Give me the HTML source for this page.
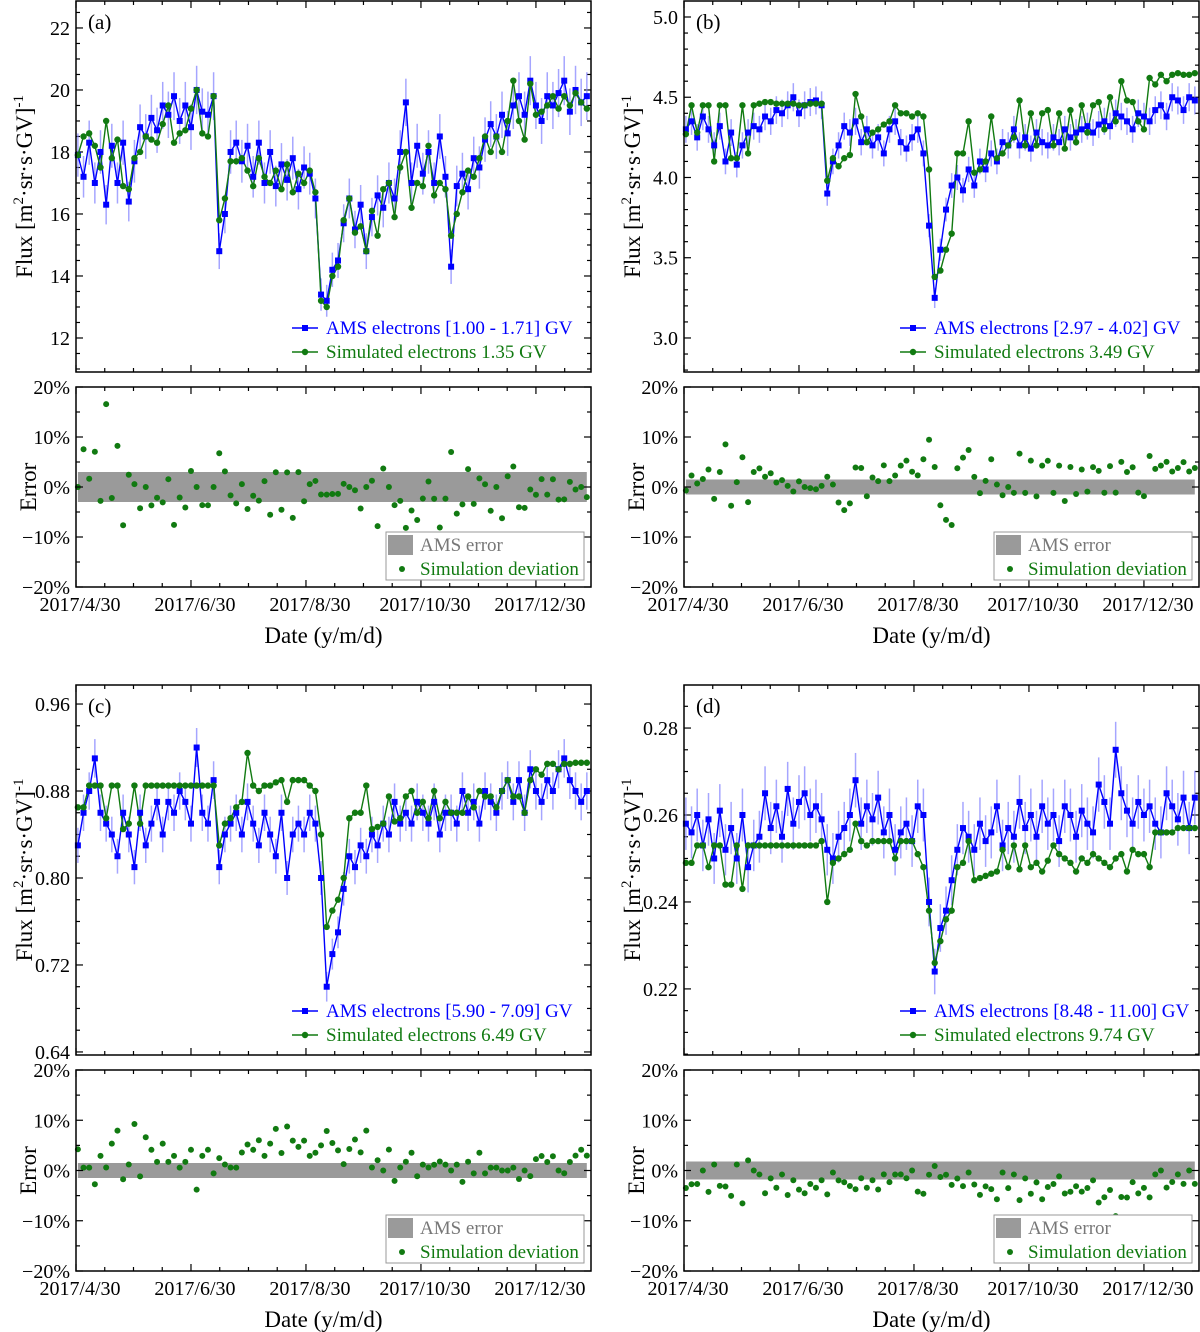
<!DOCTYPE html>
<html><head><meta charset="utf-8"><style>
html,body{margin:0;padding:0;background:#fff}
svg{display:block;font-family:"Liberation Serif",serif}
</style></head><body>
<svg id="chart" width="1200" height="1332" viewBox="0 0 1200 1332" xmlns="http://www.w3.org/2000/svg"></svg>
<script>
// sample days (days since 2017/4/30)
const days = [];
for (let i = 0; i < 91; i++) days.push(1 + 3 * i);
const xTickLabels = ["2017/4/30","2017/6/30","2017/8/30","2017/10/30","2017/12/30"];
const xTickDays = [0, 61, 122, 183, 244];
const errTickLabels = ["20%","10%","0%","\u221210%","\u221220%"];
const errTickVals = [20, 10, 0, -10, -20];

const amsA = [17.9,17.2,18.3,17.0,18.0,16.3,18.2,17.0,18.3,16.4,17.7,18.8,18.5,19.1,18.7,19.5,19.2,19.8,19.0,19.5,18.8,20.0,19.3,19.2,19.8,14.8,16.0,18.0,18.3,17.7,18.2,17.2,18.3,17.0,18.0,16.9,17.6,17.1,17.8,16.8,17.5,17.3,16.5,13.4,13.2,14.2,14.5,15.7,16.5,15.5,16.3,14.8,15.9,16.6,16.2,17.0,16.5,18.0,19.6,17.0,18.2,17.3,18.0,17.0,18.5,17.2,14.3,16.9,17.3,16.8,17.8,17.5,18.4,18.9,18.5,19.2,18.6,19.5,19.8,19.2,20.3,19.5,19.0,19.8,19.5,19.9,20.3,19.3,20.0,19.6,19.8];
const simA = [17.9,18.5,18.6,18.2,17.5,19.0,17.8,18.4,16.9,16.8,17.8,18.0,18.5,18.4,18.3,18.9,19.5,18.3,18.6,18.7,19.4,20.0,18.6,18.5,19.8,15.8,16.5,17.7,17.7,17.8,17.4,16.9,17.8,17.2,17.0,17.4,16.8,17.6,16.7,17.3,17.0,17.4,16.7,13.2,13.0,14.0,14.3,15.8,16.5,15.4,15.6,14.8,16.1,15.3,16.8,17.0,15.9,17.5,18.0,16.2,17.0,16.9,18.2,16.6,17.0,16.8,15.3,16.0,16.7,17.4,17.2,17.8,18.5,18.0,18.5,18.0,19.0,20.3,19.0,18.4,20.2,19.2,19.3,19.5,19.8,19.4,19.8,19.5,19.9,19.6,19.4];
const amsB = [4.30,4.35,4.25,4.38,4.30,4.20,4.32,4.10,4.28,4.08,4.20,4.28,4.32,4.30,4.38,4.35,4.42,4.40,4.45,4.50,4.40,4.45,4.47,4.48,4.45,3.90,4.10,4.20,4.32,4.28,4.35,4.22,4.30,4.20,4.25,4.15,4.30,4.35,4.22,4.18,4.25,4.30,4.15,3.70,3.25,3.55,3.80,3.95,4.00,3.92,4.05,3.95,4.10,4.05,4.15,4.10,4.22,4.20,4.30,4.20,4.25,4.18,4.28,4.22,4.20,4.25,4.22,4.30,4.25,4.28,4.30,4.32,4.28,4.33,4.35,4.32,4.40,4.38,4.35,4.30,4.40,4.38,4.35,4.42,4.45,4.38,4.50,4.48,4.42,4.50,4.48];
const simB = [4.27,4.45,4.28,4.45,4.45,4.10,4.45,4.45,4.12,4.12,4.45,4.15,4.45,4.46,4.47,4.47,4.46,4.46,4.46,4.46,4.45,4.45,4.46,4.46,4.46,3.98,4.12,4.07,4.12,4.14,4.52,4.38,4.22,4.28,4.30,4.33,4.35,4.45,4.40,4.40,4.38,4.40,4.38,4.05,3.38,3.42,3.55,3.65,4.15,4.15,4.35,4.03,4.05,4.10,4.38,4.12,4.15,4.20,4.25,4.48,4.20,4.40,4.20,4.40,4.42,4.20,4.40,4.18,4.42,4.22,4.45,4.28,4.45,4.47,4.30,4.50,4.35,4.60,4.48,4.47,4.35,4.30,4.62,4.58,4.64,4.60,4.64,4.65,4.64,4.64,4.65];
const amsC = [0.83,0.86,0.88,0.91,0.86,0.85,0.84,0.82,0.86,0.84,0.81,0.86,0.83,0.85,0.87,0.84,0.87,0.86,0.88,0.87,0.85,0.92,0.86,0.85,0.89,0.81,0.84,0.85,0.86,0.84,0.87,0.85,0.83,0.86,0.84,0.82,0.86,0.80,0.84,0.85,0.84,0.86,0.85,0.80,0.70,0.73,0.75,0.79,0.82,0.81,0.83,0.82,0.84,0.83,0.85,0.84,0.87,0.85,0.86,0.85,0.87,0.86,0.85,0.87,0.84,0.86,0.86,0.85,0.88,0.86,0.87,0.85,0.88,0.87,0.86,0.88,0.89,0.87,0.89,0.86,0.90,0.88,0.87,0.89,0.88,0.90,0.91,0.89,0.88,0.87,0.88];
const simC = [0.865,0.865,0.885,0.885,0.885,0.855,0.885,0.885,0.845,0.85,0.885,0.85,0.885,0.885,0.885,0.885,0.885,0.885,0.885,0.885,0.885,0.885,0.885,0.885,0.885,0.83,0.85,0.855,0.865,0.87,0.915,0.885,0.88,0.885,0.885,0.888,0.89,0.87,0.89,0.89,0.89,0.885,0.88,0.84,0.755,0.77,0.78,0.80,0.855,0.86,0.86,0.885,0.845,0.847,0.85,0.875,0.852,0.855,0.875,0.88,0.86,0.87,0.855,0.88,0.855,0.87,0.86,0.86,0.86,0.875,0.865,0.88,0.875,0.875,0.865,0.88,0.89,0.875,0.875,0.86,0.89,0.90,0.895,0.905,0.905,0.90,0.905,0.905,0.906,0.906,0.906];
const amsD = [0.258,0.256,0.260,0.253,0.259,0.250,0.261,0.252,0.257,0.250,0.260,0.248,0.253,0.255,0.265,0.257,0.262,0.255,0.266,0.258,0.263,0.265,0.260,0.262,0.259,0.252,0.250,0.255,0.257,0.260,0.268,0.258,0.262,0.259,0.264,0.256,0.260,0.252,0.256,0.258,0.254,0.262,0.260,0.240,0.224,0.234,0.238,0.245,0.252,0.257,0.255,0.252,0.258,0.254,0.256,0.262,0.253,0.257,0.255,0.263,0.257,0.260,0.255,0.262,0.258,0.260,0.254,0.262,0.260,0.255,0.261,0.258,0.256,0.267,0.263,0.258,0.275,0.265,0.261,0.258,0.263,0.260,0.262,0.258,0.256,0.265,0.262,0.259,0.264,0.257,0.264];
const simD = [0.249,0.249,0.253,0.253,0.248,0.253,0.253,0.244,0.244,0.253,0.243,0.253,0.253,0.253,0.253,0.253,0.253,0.253,0.253,0.253,0.253,0.253,0.253,0.253,0.254,0.240,0.249,0.250,0.251,0.252,0.258,0.254,0.253,0.254,0.254,0.254,0.254,0.250,0.254,0.254,0.254,0.251,0.248,0.238,0.226,0.231,0.236,0.238,0.248,0.249,0.254,0.245,0.2455,0.246,0.2465,0.247,0.252,0.248,0.253,0.2475,0.253,0.248,0.249,0.247,0.2495,0.253,0.251,0.250,0.249,0.247,0.250,0.249,0.251,0.250,0.249,0.248,0.250,0.251,0.247,0.252,0.251,0.251,0.248,0.256,0.256,0.256,0.256,0.257,0.257,0.257,0.257];
const relErr = [0.03, 0.015, 0.015, 0.018];

const NS = "http://www.w3.org/2000/svg";
const svg = document.getElementById("chart");
function mk(tag, attrs, parent, text) {
  const e = document.createElementNS(NS, tag);
  for (const k in attrs) e.setAttribute(k, attrs[k]);
  if (text !== undefined) e.textContent = text;
  (parent || svg).appendChild(e);
  return e;
}

const panels = [
  {id:"a", L:76, ft:1, fb:372, ymin:10.903, ymax:22.87, ticks:[12,14,16,18,20,22], fmt:v=>v.toFixed(0), minor:0.5, et:387, eb:587, ams:amsA, sim:simA, err:relErr[0], range:"[1.00 - 1.71] GV", simE:"1.35 GV"},
  {id:"b", L:684, ft:1, fb:372, ymin:2.788, ymax:5.0997, ticks:[3.0,3.5,4.0,4.5,5.0], fmt:v=>v.toFixed(1), minor:0.1, et:387, eb:587, ams:amsB, sim:simB, err:relErr[1], range:"[2.97 - 4.02] GV", simE:"3.49 GV"},
  {id:"c", L:76, ft:685, fb:1055, ymin:0.6372, ymax:0.9775, ticks:[0.64,0.72,0.80,0.88,0.96], fmt:v=>v.toFixed(2), minor:0.02, et:1070, eb:1271, ams:amsC, sim:simC, err:relErr[2], range:"[5.90 - 7.09] GV", simE:"6.49 GV"},
  {id:"d", L:684, ft:685, fb:1055, ymin:0.2048, ymax:0.2899, ticks:[0.22,0.24,0.26,0.28], fmt:v=>v.toFixed(2), minor:0.005, et:1070, eb:1271, ams:amsD, sim:simD, err:relErr[3], range:"[8.48 - 11.00] GV", simE:"9.74 GV"}
];
const W = 515, PXDAY = 1.885;
const BLUE = "#0000ff", GREEN = "#117a11";
const TF = 20, LF = 19, AF = 23;

panels.forEach(p => {
  const g = mk("g", {});
  
  
  const xs = d => p.L + d * PXDAY;
  const ys = v => p.fb - (v - p.ymin) / (p.ymax - p.ymin) * (p.fb - p.ft);
  const es = v => p.eb - (v + 20) / 40 * (p.eb - p.et);
  const R = p.L + W;

  function xTicks(top, bot) {
    for (let d = 0; d <= 272; d += 15.25) {
      const major = Math.abs((d / 61) - Math.round(d / 61)) < 1e-6;
      const len = major ? 7 : 4;
      const x = xs(d);
      mk("line", {x1:x, y1:bot, x2:x, y2:bot-len, stroke:"#000", "stroke-width":1.2}, g);
      mk("line", {x1:x, y1:top, x2:x, y2:top+len, stroke:"#000", "stroke-width":1.2}, g);
    }
  }
  xTicks(p.ft, p.fb);
  const nMin = Math.ceil(p.ymin / p.minor), nMax = Math.floor(p.ymax / p.minor);
  for (let k = nMin; k <= nMax; k++) {
    const v = k * p.minor;
    const major = p.ticks.some(t => Math.abs(t - v) < p.minor * 0.01);
    const len = major ? 7 : 4, y = ys(v);
    mk("line", {x1:p.L, y1:y, x2:p.L+len, y2:y, stroke:"#000", "stroke-width":1.2}, g);
    mk("line", {x1:R, y1:y, x2:R-len, y2:y, stroke:"#000", "stroke-width":1.2}, g);
  }
  p.ticks.forEach(t => {
    const tl = mk("text", {x:p.L-6, y:ys(t)+7, "text-anchor":"end", "font-size":TF}, g, p.fmt(t));
    
    
  });
  const yt = mk("text", {transform:`translate(${p.L-44},${(p.ft+p.fb)/2}) rotate(-90)`, "text-anchor":"middle", "font-size":AF}, g);
  
  
  yt.innerHTML = 'Flux [m<tspan font-size="15" dy="-9">2</tspan><tspan dy="9">\u00b7sr\u00b7s\u00b7GV]</tspan><tspan font-size="15" dy="-9">-1</tspan>';
  const pl = mk("text", {x:p.L+12, y:p.ft+28, "font-size":21}, g, "(" + p.id + ")");
  
  

  p.ams.forEach((v, i) => {
    const x = xs(days[i]);
    const eb = mk("line", {x1:x, y1:ys(v*(1+p.err*1.3)), x2:x, y2:ys(v*(1-p.err*1.3)), stroke:"#8080ff", "stroke-width":1.5, opacity:0.7}, g);
    
    
  });
  const amsPts = p.ams.map((v, i) => xs(days[i]).toFixed(1) + "," + ys(v).toFixed(1)).join(" ");
  const al = mk("polyline", {points:amsPts, fill:"none", stroke:BLUE, "stroke-width":1.4}, g);
  
  
  const simPts = p.sim.map((v, i) => xs(days[i]).toFixed(1) + "," + ys(v).toFixed(1)).join(" ");
  const sl = mk("polyline", {points:simPts, fill:"none", stroke:GREEN, "stroke-width":1.4}, g);
  
  
  p.ams.forEach((v, i) => {
    const m = mk("rect", {x:xs(days[i])-3, y:ys(v)-3, width:6, height:6, fill:BLUE}, g);
    
    
  });
  p.sim.forEach((v, i) => {
    const m = mk("circle", {cx:xs(days[i]), cy:ys(v), r:3.2, fill:GREEN}, g);
    
    
  });
  mk("rect", {x:p.L, y:p.ft, width:W, height:p.fb-p.ft, fill:"none", stroke:"#000", "stroke-width":1.5}, g);

  const ly1 = p.fb - 44, ly2 = p.fb - 20;
  mk("line", {x1:p.L+216, y1:ly1, x2:p.L+242, y2:ly1, stroke:BLUE, "stroke-width":1.4}, g);
  mk("rect", {x:p.L+226, y:ly1-3, width:6, height:6, fill:BLUE}, g);
  const lt1 = mk("text", {x:p.L+250, y:ly1+6, "font-size":LF, fill:BLUE}, g, "AMS electrons " + p.range);
  
  
  mk("line", {x1:p.L+216, y1:ly2, x2:p.L+242, y2:ly2, stroke:GREEN, "stroke-width":1.4}, g);
  mk("circle", {cx:p.L+229, cy:ly2, r:3.2, fill:GREEN}, g);
  const lt2 = mk("text", {x:p.L+250, y:ly2+6, "font-size":LF, fill:GREEN}, g, "Simulated electrons " + p.simE);
  
  

  const up = [], dn = [];
  p.ams.forEach((v, i) => { up.push(xs(days[i]).toFixed(1) + "," + es(p.err*100).toFixed(1)); dn.unshift(xs(days[i]).toFixed(1) + "," + es(-p.err*100).toFixed(1)); });
  const band = mk("polygon", {points:up.concat(dn).join(" "), fill:"#9a9a9a"}, g);
  
  
  p.ams.forEach((v, i) => {
    const dev = (p.sim[i] - v) / v * 100;
    const c = mk("circle", {cx:xs(days[i]), cy:es(Math.max(-20, Math.min(20, dev))), r:3, fill:GREEN}, g);
    
    
  });
  xTicks(p.et, p.eb);
  for (let v = -20; v <= 20; v += 5) {
    const len = (v % 10 === 0) ? 7 : 4, y = es(v);
    mk("line", {x1:p.L, y1:y, x2:p.L+len, y2:y, stroke:"#000", "stroke-width":1.2}, g);
    mk("line", {x1:R, y1:y, x2:R-len, y2:y, stroke:"#000", "stroke-width":1.2}, g);
  }
  errTickVals.forEach((v, i) => {
    const t = mk("text", {x:p.L-6, y:es(v)+7, "text-anchor":"end", "font-size":TF}, g, errTickLabels[i]);
    
    
  });
  mk("rect", {x:p.L, y:p.et, width:W, height:p.eb-p.et, fill:"none", stroke:"#000", "stroke-width":1.5}, g);
  const et = mk("text", {transform:`translate(${p.L-40},${(p.et+p.eb)/2}) rotate(-90)`, "text-anchor":"middle", "font-size":AF}, g, "Error");
  
  
  const lg = mk("g", {}, g);
  
  
  mk("rect", {x:p.L+310, y:p.et+145, width:198, height:48, fill:"#fff", stroke:"#999", "stroke-width":1}, lg);
  mk("rect", {x:p.L+312, y:p.et+148, width:25, height:20, fill:"#9a9a9a"}, lg);
  mk("text", {x:p.L+344, y:p.et+164, "font-size":LF, fill:"#777"}, lg, "AMS error");
  mk("circle", {cx:p.L+326, cy:p.et+182, r:3, fill:GREEN}, lg);
  mk("text", {x:p.L+344, y:p.et+188, "font-size":LF, fill:GREEN}, lg, "Simulation deviation");

  xTickDays.forEach((d, i) => {
    const t = mk("text", {x:xs(d)+4, y:p.eb+24, "text-anchor":"middle", "font-size":TF}, g, xTickLabels[i]);
    
    
  });
  const xt = mk("text", {x:p.L+W/2-10, y:p.eb+56, "text-anchor":"middle", "font-size":AF}, g, "Date (y/m/d)");
  
  
});
</script>
</body></html>
